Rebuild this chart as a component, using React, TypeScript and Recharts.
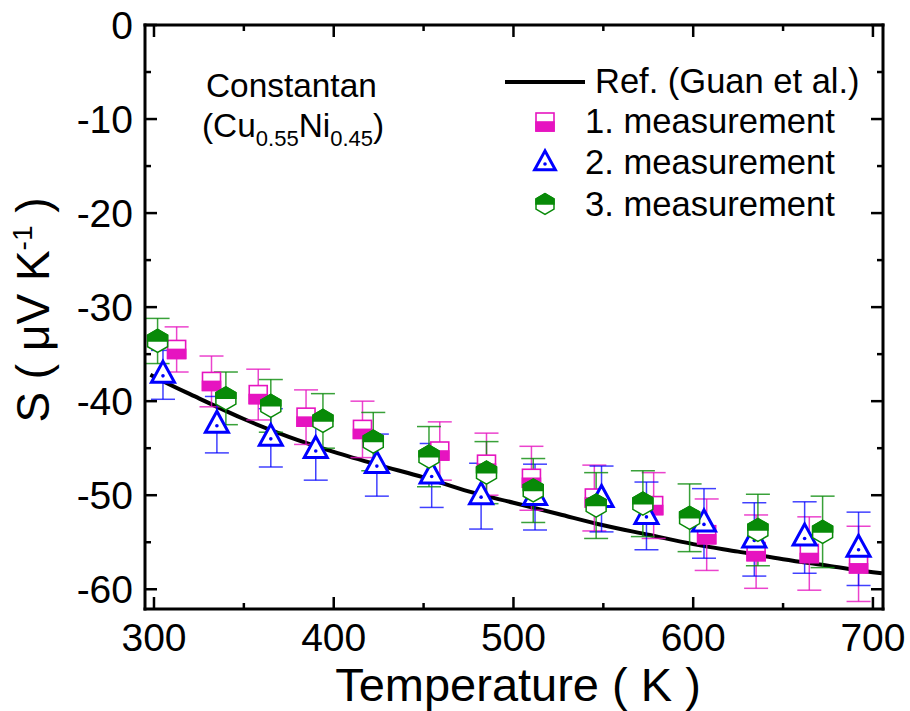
import React from "react";
import { ComposedChart, Line, Scatter, ErrorBar, XAxis, YAxis } from "recharts";

// Reference curve (Guan et al.)
const REF_T = [298, 300, 325, 350, 375, 400, 425, 450, 475, 500, 525, 550, 575, 600, 625, 650, 675, 700, 705];
const REF_S = [-37.2, -37.4, -39.7, -41.9, -43.8, -45.4, -46.8, -48.1, -49.6, -50.8, -52.0, -53.2, -54.2, -55.2, -56.0, -56.8, -57.5, -58.2, -58.3];

// 1. measurement
const M1_T = [312.6, 332, 358, 384.6, 416, 459, 485, 510, 545, 578, 607.5, 635, 664.6, 692];
const M1_S = [-34.5, -37.9, -39.3, -41.7, -43.0, -45.3, -46.7, -48.2, -50.3, -51.1, -54.2, -56.0, -56.2, -57.3];
const M1_ERR = [2.4, 2.7, 2.7, 2.9, 3.0, 3.1, 3.3, 3.4, 3.5, 3.5, 3.8, 3.9, 3.9, 4.0];

// 2. measurement
const M2_T = [305, 335, 365, 390, 424, 454.5, 482, 512, 549, 574, 606, 634, 662, 692];
const M2_S = [-37.2, -42.5, -43.9, -45.2, -46.8, -47.9, -50.1, -50.2, -50.4, -52.2, -53.0, -54.7, -54.5, -55.7];
const M2_ERR = [2.6, 3.0, 3.1, 3.2, 3.3, 3.4, 3.5, 3.5, 3.5, 3.6, 3.7, 3.9, 3.8, 3.9];

// 3. measurement
const M3_T = [302, 340, 365, 394, 422, 453, 485, 511, 546, 572, 598, 636, 672];
const M3_S = [-33.6, -39.7, -40.5, -42.1, -44.3, -45.9, -47.6, -49.5, -51.1, -50.9, -52.4, -53.7, -53.9];
const M3_ERR = [2.4, 2.8, 2.8, 2.9, 3.1, 3.2, 3.3, 3.4, 3.5, 3.5, 3.6, 3.8, 3.8];

const X_DOMAIN = [295, 705.6];
const Y_DOMAIN = [-62.1, 0];
const X_TICKS = [300, 350, 400, 450, 500, 550, 600, 650, 700];
const Y_TICKS = [0, -5, -10, -15, -20, -25, -30, -35, -40, -45, -50, -55, -60];

const MAG = "#e614c0";
const BLUE = "#0000ff";
const GREEN = "#088a08";
const FONT = "'Liberation Sans', Arial, sans-serif";

// layout
const W = 910;
const H = 711;
const MARGIN = { top: 24, right: 26, bottom: 22, left: 15 };
const Y_AXIS_W = 130;
const X_AXIS_H = 80;
const PLOT = {
  left: MARGIN.left + Y_AXIS_W,
  top: MARGIN.top + 1,
  right: W - MARGIN.right - 1,
  bottom: H - MARGIN.bottom - X_AXIS_H,
};

const zip = (t: number[], s: number[], e?: number[]) =>
  t.map((v, i) => ({ t: v, s: s[i], e: e ? e[i] : 0 }));

const refData = zip(REF_T, REF_S);
const m1 = zip(M1_T, M1_S, M1_ERR);
const m2 = zip(M2_T, M2_S, M2_ERR);
const m3 = zip(M3_T, M3_S, M3_ERR);

function HalfSquare({ cx, cy, k = 1 }: any) {
  const h = 9 * k;
  return (
    <g>
      <rect x={cx - h} y={cy - h} width={2 * h} height={2 * h} fill="#fff" stroke={MAG} strokeWidth={1.6} />
      <rect x={cx - h} y={cy} width={2 * h} height={h} fill={MAG} stroke={MAG} strokeWidth={1.6} />
    </g>
  );
}

function DotTriangle({ cx, cy, k = 1 }: any) {
  const pts = `${cx},${cy - 13.5 * k} ${cx - 11.5 * k},${cy + 7.5 * k} ${cx + 11.5 * k},${cy + 7.5 * k}`;
  return (
    <g>
      <polygon points={pts} fill="#fff" stroke={BLUE} strokeWidth={3} strokeLinejoin="miter" />
      <circle cx={cx} cy={cy + 1} r={1.8} fill={BLUE} />
    </g>
  );
}

function HalfHex({ cx, cy, k = 1 }: any) {
  const w = 10 * k;
  const h = 11.5 * k;
  const full = `${cx},${cy - h} ${cx + w},${cy - h / 2} ${cx + w},${cy + h / 2} ${cx},${cy + h} ${cx - w},${cy + h / 2} ${cx - w},${cy - h / 2}`;
  const top = `${cx - w},${cy} ${cx - w},${cy - h / 2} ${cx},${cy - h} ${cx + w},${cy - h / 2} ${cx + w},${cy}`;
  return (
    <g>
      <polygon points={full} fill="#fff" stroke={GREEN} strokeWidth={1.5} />
      <polygon points={top} fill={GREEN} stroke={GREEN} strokeWidth={1.5} />
    </g>
  );
}

const LeftTick = (p: any) => {
  const v = p.payload.value;
  const major = v % 10 === 0;
  return (
    <g>
      <line x1={p.x} x2={p.x + (major ? 12 : 6)} y1={p.y} y2={p.y} stroke="#000" strokeWidth={2.5} />
      {major && (
        <text x={p.x - 12} y={p.y} dy="0.36em" textAnchor="end" fontSize={39} fontFamily={FONT} fill="#000">
          {v}
        </text>
      )}
    </g>
  );
};

const RightTick = (p: any) => {
  const major = p.payload.value % 10 === 0;
  return <line x1={p.x} x2={p.x - (major ? 12 : 6)} y1={p.y} y2={p.y} stroke="#000" strokeWidth={2.5} />;
};

const BottomTick = (p: any) => {
  const v = p.payload.value;
  const major = v % 100 === 0;
  return (
    <g>
      <line x1={p.x} x2={p.x} y1={p.y} y2={p.y - (major ? 12 : 6)} stroke="#000" strokeWidth={2.5} />
      {major && (
        <text x={p.x} y={p.y + 42} textAnchor="middle" fontSize={39} fontFamily={FONT} fill="#000">
          {v}
        </text>
      )}
    </g>
  );
};

const TopTick = (p: any) => {
  const major = p.payload.value % 100 === 0;
  return <line x1={p.x} x2={p.x} y1={p.y} y2={p.y + (major ? 12 : 6)} stroke="#000" strokeWidth={2.5} />;
};

export default function App() {
  return (
    <div style={{ position: "absolute", left: 0, top: 0, width: W, height: H, background: "#fff" }}>
      <ComposedChart width={W} height={H} margin={MARGIN}>
        <XAxis
          xAxisId="b"
          dataKey="t"
          type="number"
          domain={X_DOMAIN}
          allowDataOverflow
          ticks={X_TICKS}
          interval={0}
          height={X_AXIS_H}
          tickSize={0}
          tickMargin={0}
          tick={<BottomTick />}
          axisLine={false}
        />
        <XAxis
          xAxisId="t"
          dataKey="t"
          type="number"
          orientation="top"
          domain={X_DOMAIN}
          allowDataOverflow
          ticks={X_TICKS}
          interval={0}
          height={1}
          tickSize={0}
          tickMargin={0}
          tick={<TopTick />}
          axisLine={false}
        />
        <YAxis
          yAxisId="l"
          type="number"
          domain={Y_DOMAIN}
          allowDataOverflow
          ticks={Y_TICKS}
          interval={0}
          width={Y_AXIS_W}
          tickSize={0}
          tickMargin={0}
          tick={<LeftTick />}
          axisLine={false}
        />
        <YAxis
          yAxisId="r"
          type="number"
          orientation="right"
          domain={Y_DOMAIN}
          allowDataOverflow
          ticks={Y_TICKS}
          interval={0}
          width={1}
          tickSize={0}
          tickMargin={0}
          tick={<RightTick />}
          axisLine={false}
        />
        <Line
          xAxisId="b"
          yAxisId="l"
          data={refData}
          dataKey="s"
          type="monotone"
          stroke="#000"
          strokeWidth={4}
          dot={false}
          isAnimationActive={false}
        />
        <Scatter
          xAxisId="b"
          yAxisId="l"
          data={m1}
          dataKey="s"
          isAnimationActive={false}
          shape={(p: any) => <HalfSquare cx={p.cx} cy={p.cy} />}
        >
          <ErrorBar dataKey="e" direction="y" width={12} stroke={MAG} strokeOpacity={0.8} strokeWidth={1.5} />
        </Scatter>
        <Scatter
          xAxisId="b"
          yAxisId="l"
          data={m2}
          dataKey="s"
          isAnimationActive={false}
          shape={(p: any) => <DotTriangle cx={p.cx} cy={p.cy} />}
        >
          <ErrorBar dataKey="e" direction="y" width={12} stroke={BLUE} strokeOpacity={0.75} strokeWidth={1.5} />
        </Scatter>
        <Scatter
          xAxisId="b"
          yAxisId="l"
          data={m3}
          dataKey="s"
          isAnimationActive={false}
          shape={(p: any) => <HalfHex cx={p.cx} cy={p.cy} />}
        >
          <ErrorBar dataKey="e" direction="y" width={12} stroke={GREEN} strokeOpacity={0.8} strokeWidth={1.5} />
        </Scatter>
      </ComposedChart>
      <svg
        width={W}
        height={H}
        style={{ position: "absolute", left: 0, top: 0, pointerEvents: "none" }}
        fontFamily={FONT}
      >
        <g stroke="#000" strokeWidth={3} strokeLinecap="square">
          <line x1={PLOT.left} y1={PLOT.top} x2={PLOT.right} y2={PLOT.top} />
          <line x1={PLOT.right} y1={PLOT.top} x2={PLOT.right} y2={PLOT.bottom} />
          <line x1={PLOT.left} y1={PLOT.bottom} x2={PLOT.right} y2={PLOT.bottom} />
          <line x1={PLOT.left} y1={PLOT.top} x2={PLOT.left} y2={PLOT.bottom} />
        </g>
        <text x={518} y={701} textAnchor="middle" fontSize={47}>
          Temperature ( K )
        </text>
        <text transform="translate(49,310) rotate(-90)" textAnchor="middle" fontSize={46}>
          S ( μV K
          <tspan dy={-17} fontSize={28}>-1</tspan>
          <tspan dy={17}> )</tspan>
        </text>
        <text x={206} y={97} fontSize={33.4}>Constantan</text>
        <text x={202} y={137} fontSize={33.4}>
          (Cu
          <tspan dy={9} fontSize={22}>0.55</tspan>
          <tspan dy={-9}>Ni</tspan>
          <tspan dy={9} fontSize={22}>0.45</tspan>
          <tspan dy={-9}>)</tspan>
        </text>
        <line x1={505} x2={585} y1={82} y2={82} stroke="#000" strokeWidth={4} />
        <text x={595} y={93} fontSize={34.5}>Ref. (Guan et al.)</text>
        <HalfSquare cx={545} cy={122} />
        <text x={585} y={133} fontSize={34.6}>1. measurement</text>
        <DotTriangle cx={545} cy={163} k={0.9} />
        <text x={585} y={174} fontSize={34.6}>2. measurement</text>
        <HalfHex cx={545} cy={204} k={0.9} />
        <text x={585} y={216} fontSize={34.6}>3. measurement</text>
      </svg>
    </div>
  );
}
